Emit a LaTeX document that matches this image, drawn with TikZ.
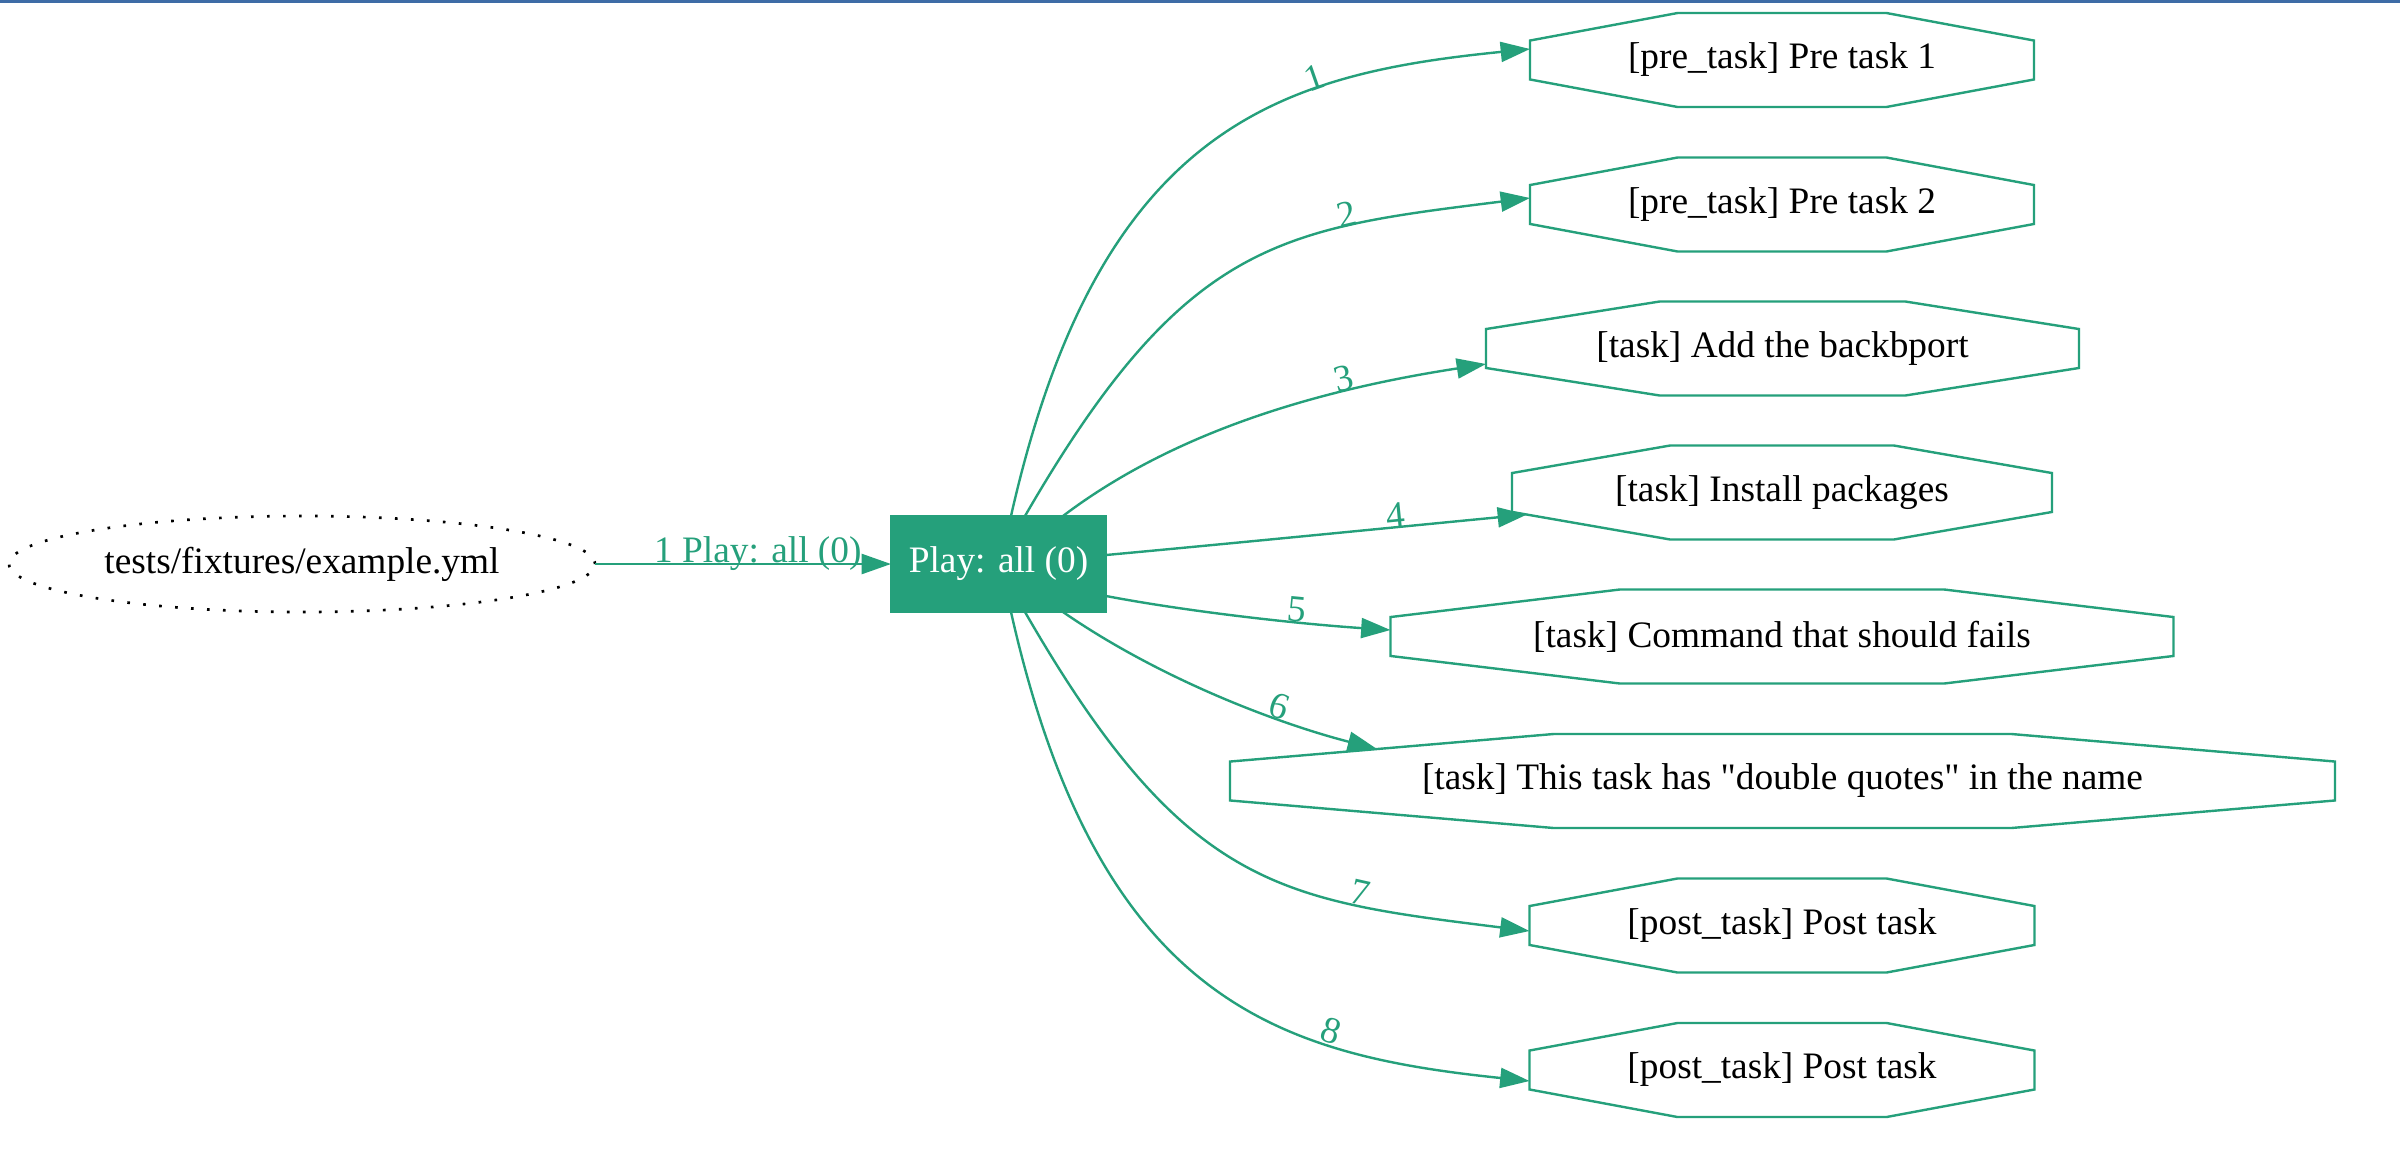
\documentclass[tikz,border=0pt]{standalone}
\usepackage{fontspec}
\setmainfont{Liberation Serif}
\usetikzlibrary{shapes.geometric,arrows.meta,calc}
\newdimen\pxu \pxu=0.375pt
\font\qf="Liberation Serif" at 14pt
\newcommand{\dq}{{\qf\char"22}}
\definecolor{gv}{HTML}{25A07B}
\definecolor{topblue}{HTML}{3E6CA6}
\tikzset{
  gvtext/.style={font=\fontsize{14pt}{17pt}\selectfont},
  filenode/.style={gvtext, ellipse, draw=black, line width=1pt, dash pattern=on 1pt off 5pt,
    minimum width=586\pxu, minimum height=96\pxu, inner sep=0pt, outer sep=0pt},
  playnode/.style={gvtext, rectangle, fill=gv, draw=gv, line width=0.9pt, text=white,
    minimum width=215\pxu, minimum height=96\pxu, inner sep=0pt, outer sep=0pt},
  tasknode/.style={gvtext, rectangle, draw=none, minimum height=94\pxu, inner sep=0pt, outer sep=0pt},
  octline/.style={draw=gv, line width=0.9pt, line join=miter},
  gvedge/.style={draw=gv, line width=0.9pt, -{Triangle[length=11pt,width=7.5pt]}},
  elabel/.style={gvtext, text=gv, sloped, anchor=south, inner sep=0pt, outer sep=0pt},
}
\newcommand{\octa}[1]{%
  \draw[octline] ($(#1.north west)!0.2929!(#1.north east)$) -- ($(#1.north west)!0.7071!(#1.north east)$)
  -- ($(#1.north east)!0.2929!(#1.south east)$) -- ($(#1.north east)!0.7071!(#1.south east)$)
  -- ($(#1.south west)!0.7071!(#1.south east)$) -- ($(#1.south west)!0.2929!(#1.south east)$)
  -- ($(#1.north west)!0.7071!(#1.south west)$) -- ($(#1.north west)!0.2929!(#1.south west)$) -- cycle;}
\begin{document}
\begin{tikzpicture}[x=0.375pt, y=-0.375pt]
  \useasboundingbox (0,0) rectangle (2400,1158);
  \fill[white] (0,0) rectangle (2400,1158);
  \fill[topblue] (0,0) rectangle (2400,2.5);

  % nodes
  \node[filenode] (file) at (302,564) {tests/fixtures/example.yml};
  \node[playnode] (play) at (998.5,564) {Play: all (0)};
  \node[tasknode, minimum width=504\pxu]  (t1) at (1782,60)    {[pre\_task] Pre task 1};
  \node[tasknode, minimum width=504\pxu]  (t2) at (1782,204.5) {[pre\_task] Pre task 2};
  \node[tasknode, minimum width=593\pxu]  (t3) at (1782.5,348.5) {[task] Add the backbport};
  \node[tasknode, minimum width=540\pxu]  (t4) at (1782,492.5) {[task] Install packages};
  \node[tasknode, minimum width=783\pxu]  (t5) at (1782,636.5) {[task] Command that should fails};
  \node[tasknode, minimum width=1105\pxu] (t6) at (1782.5,781) {[task] This task has \dq double quotes\dq{} in the name};
  \node[tasknode, minimum width=505\pxu]  (t7) at (1782,925.5) {[post\_task] Post task};
  \node[tasknode, minimum width=505\pxu]  (t8) at (1782,1070)  {[post\_task] Post task};
  \foreach \n in {t1,t2,t3,t4,t5,t6,t7,t8} {\octa{\n}}

  % edges
  \draw[gvedge] (file) -- (play)
    node[gvtext, text=gv, pos=0.55, anchor=base, yshift=0.75pt, inner sep=0pt] {1 Play: all (0)};

  \draw[gvedge] ($(play.north)+(12.5,0)$) .. controls (1099,126) and (1280,74) .. ($(t1.west)+(0,-11)$)
    node[elabel, pos=0.69] {1};
  \draw[gvedge] ($(play.north)+(26.5,0)$) .. controls (1185,239) and (1281,229) .. ($(t2.west)+(0,-6.5)$)
    node[elabel, pos=0.715] {2};
  \draw[gvedge] ($(play.north)+(64.5,0)$) .. controls (1183,425) and (1337,387) .. ($(t3.west)+(0,15.5)$)
    node[elabel, pos=0.688] {3};
  \draw[gvedge] ($(play.east)+(0,-9)$) .. controls (1247,542) and (1387,528) .. ($(t4.center)+(-255,22)$)
    node[elabel, pos=0.69] {4};
  \draw[gvedge] ($(play.east)+(0,32)$) .. controls (1190,612) and (1300,624) .. ($(t5.west)+(0,-6.5)$)
    node[elabel, pos=0.67] {5};
  \draw[gvedge] ($(play.south)+(64.5,0)$) .. controls (1161.6,680) and (1279.7,724) .. ($(t6.center)+(-405.5,-32)$)
    node[elabel, pos=0.67] {6};
  \draw[gvedge] ($(play.south)+(26.5,0)$) .. controls (1185,890) and (1281,900) .. ($(t7.west)+(0,5.5)$)
    node[elabel, pos=0.73] {7};
  \draw[gvedge] ($(play.south)+(12.5,0)$) .. controls (1099,1003) and (1280,1055) .. ($(t8.west)+(0,11)$)
    node[elabel, pos=0.705] {8};
\end{tikzpicture}
\end{document}
